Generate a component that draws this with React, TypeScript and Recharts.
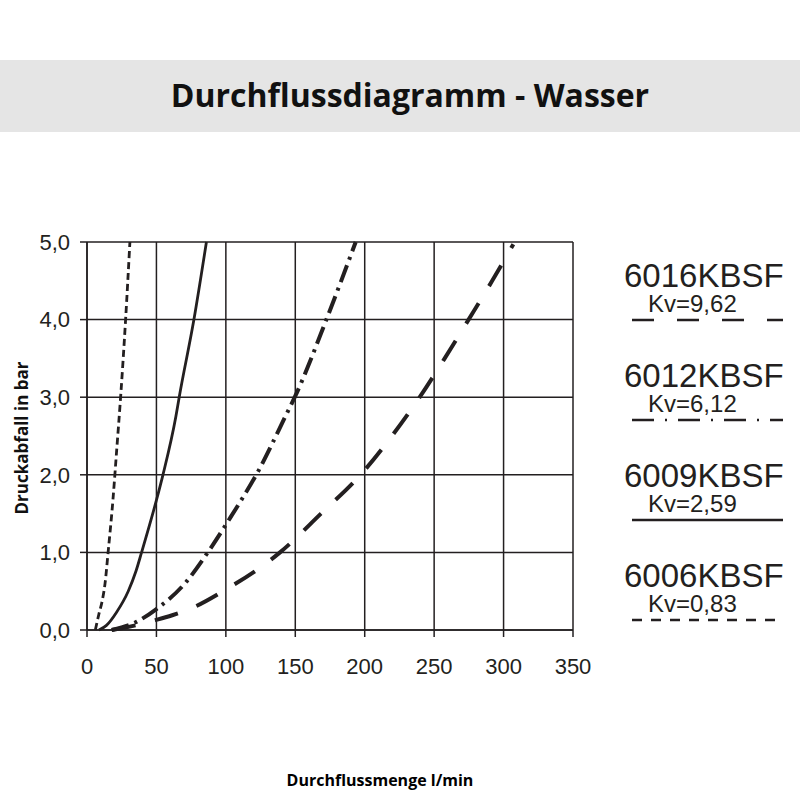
import React from 'react';
import { LineChart, Line, XAxis, YAxis, CartesianGrid } from 'recharts';

// Durchfluss (l/min) und Druckabfall (bar)
const q6006 = [6, 8.5, 11, 13, 15.2, 18.7, 21.3, 24.2, 27.8, 30.9];
const dp6006 = [0, 0.2, 0.38, 0.6, 1.0, 1.68, 2.3, 3.0, 4.0, 5.0];

const q6009 = [8.6, 14, 21.3, 29.7, 35.3, 39.3, 50.1, 54.7, 64, 66.4, 77, 86];
const dp6009 = [0, 0.06, 0.23, 0.5, 0.76, 1.0, 1.68, 2.0, 2.75, 3.0, 4.0, 5.0];

const q6012 = [17.7, 35, 50, 70.5, 87, 104, 111.3, 122.5, 143.6, 149.6, 172.4, 193.5];
const dp6012 = [0, 0.1, 0.27, 0.6, 1.0, 1.47, 1.68, 2.02, 2.78, 3.0, 4.0, 5.0];

const q6016 = [18, 30, 47.7, 61.4, 77.7, 98, 139, 168.5, 197, 219.6, 239.6, 257.6, 274.8, 291.8, 307];
const dp6016 = [0, 0.04, 0.12, 0.19, 0.3, 0.5, 1.0, 1.5, 2.0, 2.5, 3.0, 3.5, 4.0, 4.5, 4.97];

const xTicks = [0, 50, 100, 150, 200, 250, 300, 350];
const yTicks = [0, 1, 2, 3, 4, 5];

const legendNames = ['6016KBSF', '6012KBSF', '6009KBSF', '6006KBSF'];
const legendKv = ['Kv=9,62', 'Kv=6,12', 'Kv=2,59', 'Kv=0,83'];

const INK = '#231f20';
const SANS = '"Liberation Sans", Arial, sans-serif';
const OPEN = '"Open Sans", sans-serif';

const toPoints = (q: number[], dp: number[]) => q.map((v, i) => ({ q: v, dp: dp[i] }));

const series = [
  { key: '6006', data: toPoints(q6006, dp6006), dash: '7 4', width: 2.8 },
  { key: '6009', data: toPoints(q6009, dp6009), dash: undefined, width: 2.8 },
  { key: '6012', data: toPoints(q6012, dp6012), dash: '18 6 3 6', width: 4 },
  { key: '6016', data: toPoints(q6016, dp6016), dash: '24 20', width: 4 },
];

// Legendenstile, Reihenfolge wie legendNames
const legendDash = ['22 23', '22 11 2 11', undefined, '10 9'];
const legendLineY = [320, 420, 520, 620];

const fmtY = (v: number) => v.toFixed(1).replace('.', ',');

const App: React.FC = () => {
  return (
    <div style={{ position: 'absolute', left: 0, top: 0, width: 800, height: 800, background: '#fff' }}>
      <div
        style={{
          position: 'absolute', left: 0, top: 60, width: 800, height: 72,
          background: '#e5e5e5', display: 'flex', alignItems: 'center', justifyContent: 'center',
          paddingLeft: 20, paddingBottom: 4, boxSizing: 'border-box',
          fontFamily: OPEN, fontWeight: 700, fontSize: 32, color: '#111',
        }}
      >
        Durchflussdiagramm - Wasser
      </div>

      <div style={{ position: 'absolute', left: 0, top: 0 }}>
        <LineChart width={800} height={800} margin={{ top: 242, right: 227, bottom: 130, left: 27 }}>
          <CartesianGrid stroke={INK} strokeWidth={1.5} />
          <XAxis
            type="number"
            dataKey="q"
            domain={[0, 350]}
            ticks={xTicks}
            height={40}
            tickSize={7}
            tickMargin={21}
            stroke={INK}
            strokeWidth={1.5}
            tick={{ fill: INK, fontSize: 22, fontFamily: SANS }}
            allowDuplicatedCategory={false}
          />
          <YAxis
            type="number"
            dataKey="dp"
            domain={[0, 5]}
            ticks={yTicks}
            width={60}
            tickSize={7}
            tickMargin={10}
            stroke={INK}
            strokeWidth={1.5}
            tickFormatter={fmtY}
            tick={{ fill: INK, fontSize: 22, fontFamily: SANS }}
          />
          {series.map((s) => (
            <Line
              key={s.key}
              data={s.data}
              dataKey="dp"
              type="monotone"
              stroke={INK}
              strokeWidth={s.width}
              strokeDasharray={s.dash}
              dot={false}
              activeDot={false}
              isAnimationActive={false}
            />
          ))}
        </LineChart>
      </div>

      <svg width={800} height={800} style={{ position: 'absolute', left: 0, top: 0, pointerEvents: 'none' }}>
        {legendNames.map((name, i) => (
          <g key={name} fontFamily={SANS} fill={INK}>
            <text x={624} y={legendLineY[i] - 33} fontSize={33}>{name}</text>
            <text x={648} y={legendLineY[i] - 8} fontSize={24}>{legendKv[i]}</text>
            <line
              x1={632}
              x2={783}
              y1={legendLineY[i]}
              y2={legendLineY[i]}
              stroke={INK}
              strokeWidth={2.6}
              strokeDasharray={legendDash[i]}
            />
          </g>
        ))}
        <text
          transform="translate(28,438) rotate(-90)"
          textAnchor="middle"
          fontFamily={OPEN}
          fontWeight={700}
          fontSize={17}
          fill="#111"
        >
          Druckabfall in bar
        </text>
        <text x={380} y={786} textAnchor="middle" fontFamily={OPEN} fontWeight={700} fontSize={16}>
          Durchflussmenge l/min
        </text>
      </svg>
    </div>
  );
};

export default App;
